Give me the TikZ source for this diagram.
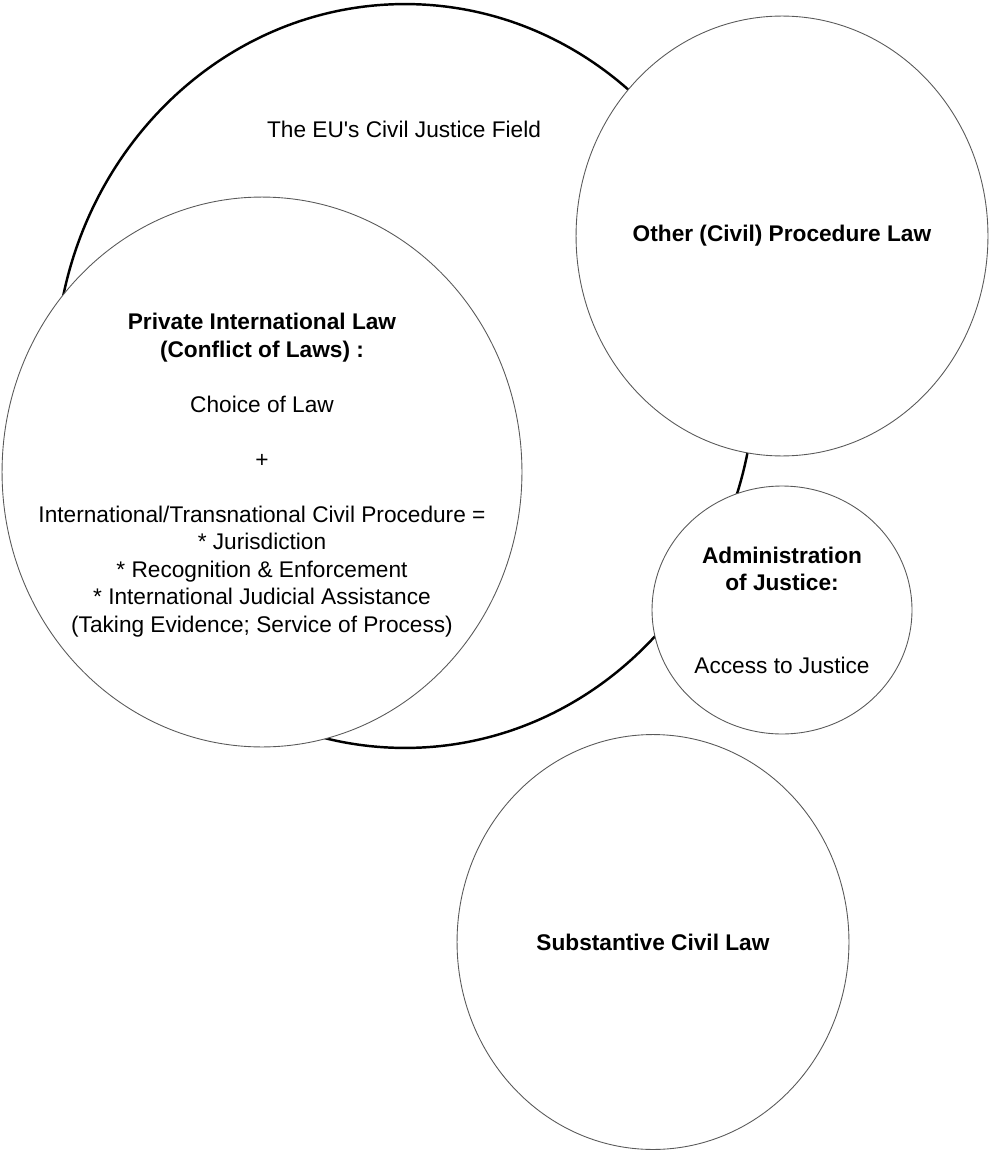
\documentclass[tikz,border=0pt]{standalone}
\usepackage{fontspec}
\setmainfont{Liberation Sans}
\usetikzlibrary{positioning,shapes.geometric}

\tikzset{
  field/.style={ellipse, draw=black, line width=1.4pt, inner sep=0pt},
  area/.style={ellipse, draw=black!65, line width=0.5pt, fill=white, inner sep=0pt},
  caption/.style={align=center, inner sep=0pt, font=\fontsize{12.9}{15.65}\selectfont},
}

\begin{document}
\begin{tikzpicture}[x=0.02cm, y=-0.02cm]
  \useasboundingbox (0,0) rectangle (991,1152);
  % the whole field
  \node [field, minimum width=14cm, minimum height=14.88cm] (eu) at (405,376) {};
  \node [caption] (eulabel) at (404,129) {The EU\textquotesingle s Civil Justice Field};
  % the parts
  \node [area, minimum width=10.4cm, minimum height=11cm] (pil) at (262,472) {};
  \node [area, minimum width=8.24cm, minimum height=8.8cm] (other) at (782,236) {};
  \node [area, minimum width=5.2cm, minimum height=4.96cm] (admin) at (782,610) {};
  \node [area, minimum width=7.84cm, minimum height=8.3cm] (subst) at (653,942) {};
  % texts
  \node [caption] (piltext) at ([yshift=-0.06cm]pil.center)
    {\textbf{Private International Law}\\
     \textbf{(Conflict of Laws) :}\\[15.65pt]
     Choice of Law\\[15.65pt]
     +\\[15.65pt]
     International/Transnational Civil Procedure =\\
     * Jurisdiction\\
     * Recognition \& Enforcement\\
     * International Judicial Assistance\\
     (Taking Evidence; Service of Process)};
  \node [caption] (othertext) at (other.center) {\textbf{Other (Civil) Procedure Law}};
  \node [caption] (admintext) at (admin.center)
    {\textbf{Administration}\\
     \textbf{of Justice:}\\[31.3pt]
     Access to Justice};
  \node [caption] (substtext) at (subst.center) {\textbf{Substantive Civil Law}};
\end{tikzpicture}
\end{document}
